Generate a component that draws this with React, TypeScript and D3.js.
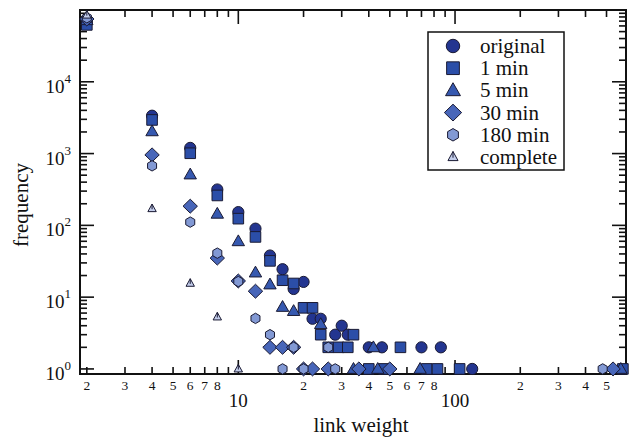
import React from 'react';
import * as d3 from 'd3';

const seriesNames = ['original', '1 min', '5 min', '30 min', '180 min', 'complete'];
const seriesColors = ['#233590', '#2b4ea8', '#3659b0', '#4866b9', '#8299d4', '#c3cdeb'];
const seriesShapes = ['circle', 'square', 'triangle', 'diamond', 'hexagon', 'tetra'];

const originalW = [2, 4, 6, 8, 10, 12, 14, 16, 18, 20, 22, 24, 28, 30, 32, 40, 46, 70, 86, 120];
const originalF = [68000, 3370, 1200, 316, 153, 90, 38, 24.5, 13, 16.3, 5, 5, 3, 4, 3, 2, 2, 2, 2, 1];

const min1W = [2, 4, 6, 8, 10, 12, 14, 16, 18, 20, 22, 24, 26, 29, 32, 34, 40, 47, 56, 74, 83, 105, 595];
const min1F = [62000, 2940, 1010, 261, 124, 69, 32, 17.2, 15.5, 7.1, 7.1, 3, 2, 2, 2, 3, 1, 1, 2, 1, 1, 1, 1];

const min5W = [2, 4, 6, 8, 10, 12, 14, 16, 18, 24, 34, 42, 44, 69, 582];
const min5F = [72000, 2040, 511, 145, 60, 22, 15, 7.3, 6.4, 4.2, 1, 2, 1, 1, 1];

const min30W = [2, 4, 6, 8, 10, 12, 14, 16, 18, 20, 22, 26, 36, 50, 536];
const min30F = [75000, 959, 185, 35, 16.8, 12.1, 2, 2, 2, 1, 1, 1, 1, 1, 1];

const min180W = [2, 4, 6, 8, 10, 12, 14, 16, 18, 20, 26, 28, 480];
const min180F = [78000, 675, 111, 41, 16.5, 5.06, 3, 1, 2, 1, 2, 1, 1];

const completeW = [2, 4, 6, 8, 10];
const completeF = [85000, 171, 15.6, 5.3, 1];

const seriesW = [originalW, min1W, min5W, min30W, min180W, completeW];
const seriesF = [originalF, min1F, min5F, min30F, min180F, completeF];

const xMajorLabels = ['10', '100'];
const yExponents = ['0', '1', '2', '3', '4'];

const W = 632;
const H = 441;
const plot = { left: 80, right: 626, top: 10, bottom: 374 };
const FONT = '"Liberation Serif", "Times New Roman", serif';

function shapePath(shape: string, s: number): string {
  switch (shape) {
    case 'circle': {
      const r = 5.6 * s;
      return `M${r},0A${r},${r} 0 1,1 ${-r},0A${r},${r} 0 1,1 ${r},0Z`;
    }
    case 'square': {
      const h = 5.3 * s;
      return `M${-h},${-h}H${h}V${h}H${-h}Z`;
    }
    case 'triangle': {
      const w = 6.2 * s;
      const t = 6.4 * s;
      const b = 4.4 * s;
      return `M0,${-t}L${w},${b}L${-w},${b}Z`;
    }
    case 'diamond': {
      const w = 7.2 * s;
      const h = 7.0 * s;
      return `M0,${-h}L${w},0L0,${h}L${-w},0Z`;
    }
    case 'hexagon': {
      const r = 5.2 * s;
      const pts = d3.range(6).map((i) => {
        const a = (Math.PI / 3) * i - Math.PI / 2;
        return [r * Math.cos(a), r * Math.sin(a)];
      });
      return 'M' + pts.map((p) => p.join(',')).join('L') + 'Z';
    }
    default: {
      const w = 4.2 * s;
      const t = 4.6 * s;
      const b = 3.0 * s;
      return `M0,${-t}L${w},${b}L${-w},${b}Z M0,${-t}L0,${0.6 * s}`;
    }
  }
}

export default function App() {
  const x = d3.scaleLog().domain([1.86, 615]).range([plot.left, plot.right]);
  const y = d3.scaleLog().domain([0.85, 1e5]).range([plot.bottom, plot.top]);

  const xTicks: { v: number; major: boolean; k: number }[] = [];
  for (let d = 0; d <= 2; d++) {
    for (let k = 1; k <= 9; k++) {
      const v = k * Math.pow(10, d);
      if (v >= 1.86 && v <= 590) xTicks.push({ v, major: k === 1, k });
    }
  }
  const yTicks: { v: number; major: boolean; e: number }[] = [];
  for (let e = 0; e <= 4; e++) {
    for (let k = 1; k <= 9; k++) {
      const v = k * Math.pow(10, e);
      if (v < 1e5) yTicks.push({ v, major: k === 1, e });
    }
  }
  const MAJ = 14;
  const MIN = 7;
  const axisColor = '#111';

  return (
    <svg width={W} height={H} style={{ position: 'absolute', left: 0, top: 0, background: '#fff' }}
      fontFamily={FONT}>
      <rect x={0} y={0} width={W} height={H} fill="#fff" />
      <g stroke={axisColor} strokeWidth={1.6}>
        {xTicks.map((t, i) => {
          const px = x(t.v);
          const len = t.major ? MAJ : MIN;
          return (
            <g key={'xt' + i}>
              <line x1={px} x2={px} y1={plot.bottom} y2={plot.bottom - len} />
              <line x1={px} x2={px} y1={plot.top} y2={plot.top + len} />
            </g>
          );
        })}
        {yTicks.map((t, i) => {
          const py = y(t.v);
          const len = t.major ? MAJ : MIN;
          return (
            <g key={'yt' + i}>
              <line x1={plot.left} x2={plot.left + len} y1={py} y2={py} />
              <line x1={plot.right} x2={plot.right - len} y1={py} y2={py} />
            </g>
          );
        })}
      </g>
      <rect x={plot.left} y={plot.top} width={plot.right - plot.left} height={plot.bottom - plot.top}
        fill="none" stroke={axisColor} strokeWidth={2} />
      {xTicks.map((t, i) => {
        const px = x(t.v);
        if (t.major) {
          const lbl = xMajorLabels[Math.round(Math.log10(t.v)) - 1];
          return (
            <text key={'xl' + i} x={px} y={407} fontSize={19} textAnchor="middle" fill="#111">{lbl}</text>
          );
        }
        if (t.k >= 2 && t.k <= 8) {
          return (
            <text key={'xl' + i} x={px} y={390} fontSize={13.5} textAnchor="middle" fill="#111">{String(t.k)}</text>
          );
        }
        return null;
      })}
      {yTicks.filter((t) => t.major).map((t, i) => {
        const py = y(t.v);
        return (
          <text key={'yl' + i} x={71} y={py + 11} fontSize={19} textAnchor="end" fill="#111">
            10<tspan fontSize={13} dy={-10}>{yExponents[t.e]}</tspan>
          </text>
        );
      })}
      <text x={361} y={432} fontSize={21} textAnchor="middle" fill="#111">link weight</text>
      <text transform="translate(28,205) rotate(-90)" fontSize={21} textAnchor="middle" fill="#111">frequency</text>
      {seriesNames.map((name, si) => (
        <g key={name}>
          {seriesW[si].map((w, i) => (
            <path key={i} transform={`translate(${x(w)},${y(seriesF[si][i])})`}
              d={shapePath(seriesShapes[si], 1)} fill={seriesColors[si]}
              stroke="#1a1a33" strokeWidth={1} />
          ))}
        </g>
      ))}
      <rect x={428} y={32} width={136} height={138} fill="#fff" stroke={axisColor} strokeWidth={1.5} />
      {seriesNames.map((name, si) => {
        const cy = 46 + si * 22.2;
        return (
          <g key={'lg' + name}>
            <path transform={`translate(453,${cy})`} d={shapePath(seriesShapes[si], 1.2)}
              fill={seriesColors[si]} stroke="#1a1a33" strokeWidth={1} />
            <text x={480} y={cy + 7} fontSize={21} fill="#111">{name}</text>
          </g>
        );
      })}
    </svg>
  );
}
